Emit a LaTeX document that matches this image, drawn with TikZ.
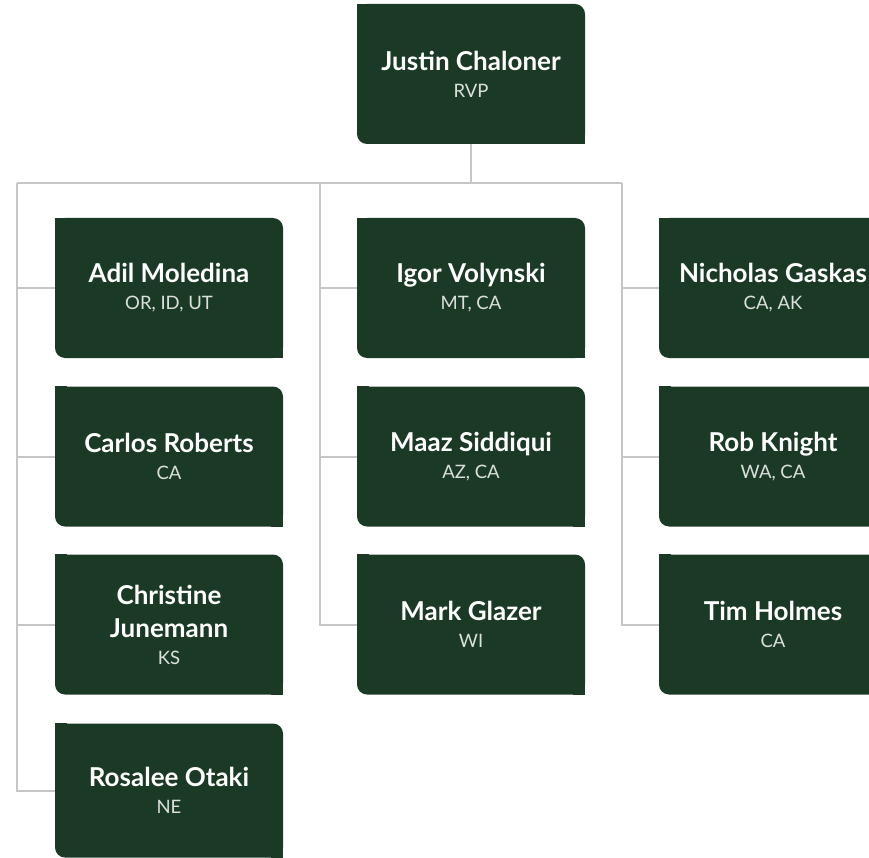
\documentclass[tikz,border=0pt]{standalone}
\usepackage{fontspec}
\setmainfont{Lato}
\definecolor{boxgreen}{HTML}{1B3A26}
\definecolor{linegray}{HTML}{C6C6C6}
\definecolor{subgray}{HTML}{DCE0DC}
\newcommand\pname[1]{{\bfseries\color{white}#1}}
\newcommand\psub[1]{{\fontsize{18.5}{26}\selectfont\color{subgray}#1}}
\tikzset{
  person/.style={fill=boxgreen, rounded corners=10pt, minimum width=228pt, minimum height=140pt,
    inner sep=0pt, align=center, font=\fontsize{26}{27}\selectfont},
  conn/.style={draw=linegray, line width=2pt}
}
\newcommand\squarecorners[1]{%
  \fill[boxgreen] (#1.north west) rectangle ++(12,12);
  \fill[boxgreen] (#1.south east) rectangle ++(-12,-12);
}
\begin{document}
\begin{tikzpicture}[x=1pt,y=-1pt]
\useasboundingbox (0,0) rectangle (869,858);
\clip (0,0) rectangle (869,858);
% connector junctions
\coordinate (L0) at (17,183);
\coordinate (M0) at (320,183);
\coordinate (R0) at (622,183);
\coordinate (T0) at (471,183);
% boxes
\node[person] (jc) at (471,74) {\pname{Justin Chaloner}\\\psub{RVP}};
\node[person] (am) at (169,288) {\pname{Adil Moledina}\\\psub{OR, ID, UT}};
\node[person] (cr) at (169,456.5) {\pname{Carlos Roberts}\\\psub{CA}};
\node[person] (cj) at (169,624.5) {\pname{Christine}\\[6pt]\pname{Junemann}\\\psub{KS}};
\node[person, minimum height=134pt] (ro) at (169,790.5) {\pname{Rosalee Otaki}\\\psub{NE}};
\node[person] (iv) at (471,288) {\pname{Igor Volynski}\\\psub{MT, CA}};
\node[person] (ms) at (471,456.5) {\pname{Maaz Siddiqui}\\\psub{AZ, CA}};
\node[person] (mg) at (471,624.5) {\pname{Mark Glazer}\\\psub{WI}};
\node[person] (ng) at (773,288) {\pname{Nicholas Gaskas}\\\psub{CA, AK}};
\node[person] (rk) at (773,456.5) {\pname{Rob Knight}\\\psub{WA, CA}};
\node[person] (th) at (773,624.5) {\pname{Tim Holmes}\\\psub{CA}};
\foreach \n in {jc,am,cr,cj,ro,iv,ms,mg,ng,rk,th} {\squarecorners{\n}}
% lines
\draw[conn] (jc.south) -- (T0);
\draw[conn] (L0) -- (R0);
\draw[conn] (L0) |- (ro.west);
\draw[conn] (L0) |- (am.west);
\draw[conn] (L0) |- (cr.west);
\draw[conn] (L0) |- (cj.west);
\draw[conn] (M0) |- (mg.west);
\draw[conn] (M0) |- (iv.west);
\draw[conn] (M0) |- (ms.west);
\draw[conn] (R0) |- (th.west);
\draw[conn] (R0) |- (ng.west);
\draw[conn] (R0) |- (rk.west);
\end{tikzpicture}
\end{document}
